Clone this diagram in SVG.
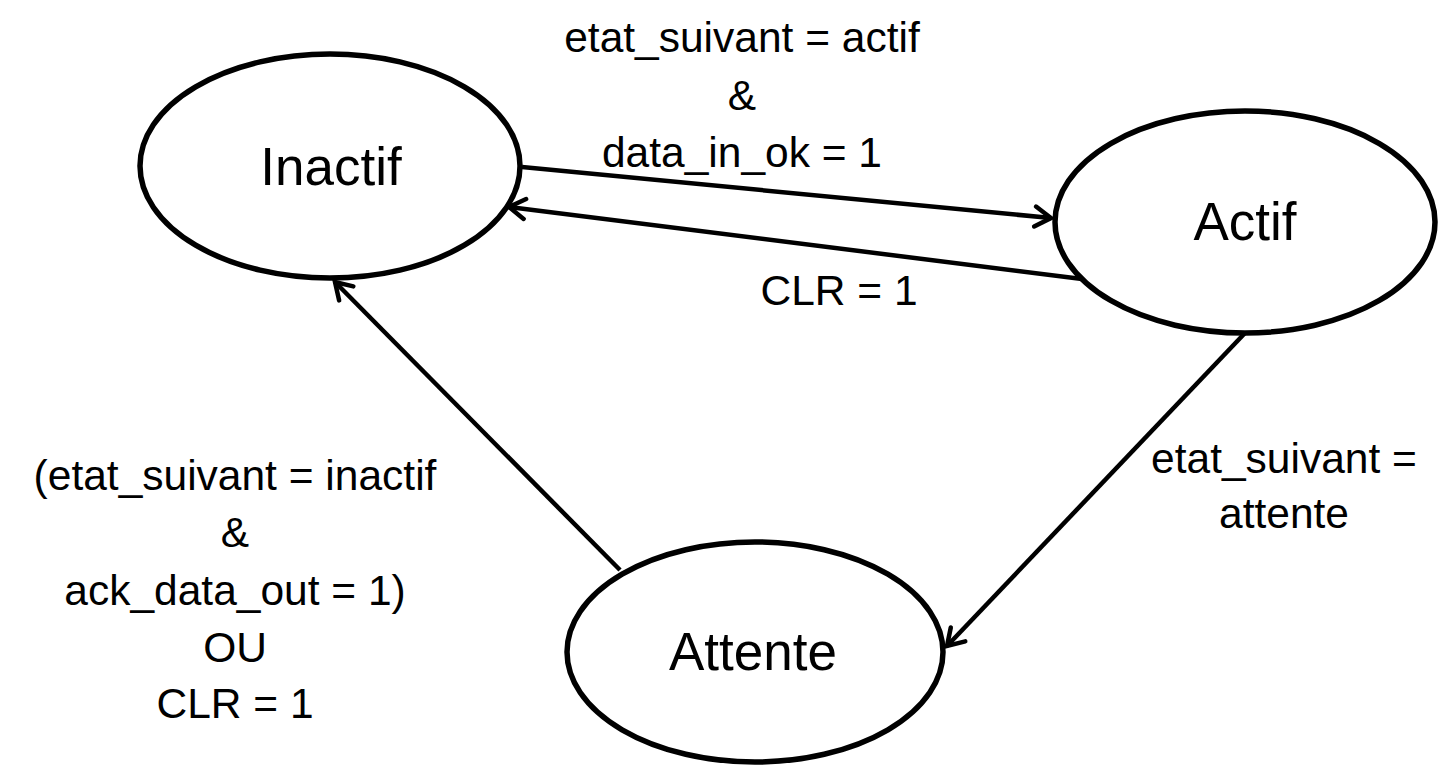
<svg xmlns="http://www.w3.org/2000/svg" width="1455" height="767" viewBox="0 0 1455 767">
<style>
.node{fill:#fff;stroke:#000;stroke-width:5.5}
.nt{font-family:"Liberation Sans",Arial,sans-serif;font-size:53px;fill:#000;text-anchor:middle}
.lt{font-family:"Liberation Sans",Arial,sans-serif;font-size:42.5px;fill:#000;text-anchor:middle}
.edge{fill:none;stroke:#000;stroke-width:4.5;marker-end:url(#arr)}
</style>
<defs>
<marker id="arr" markerUnits="userSpaceOnUse" orient="auto" refX="0" refY="0" markerWidth="40" markerHeight="40" viewBox="-20 -20 40 40" overflow="visible">
<path d="M-16,-10 L0,0 L-16,10" fill="none" stroke="#000" stroke-width="4.5" stroke-linecap="round" stroke-linejoin="miter"/>
</marker>
</defs>
<rect width="1455" height="767" fill="#fff"/>
<g id="connectors">
<line class="edge" x1="522" y1="167" x2="1051" y2="218"/>
<line class="edge" x1="1082" y1="279" x2="509" y2="207"/>
<line class="edge" x1="1245" y1="333" x2="947" y2="646"/>
<line class="edge" x1="620" y1="570" x2="335" y2="282"/>
</g>
<g id="node-inactif">
<ellipse class="node" cx="330" cy="166" rx="190" ry="112"/>
<text class="nt" x="331" y="185">Inactif</text>
</g>
<g id="node-actif">
<ellipse class="node" cx="1245" cy="222" rx="190" ry="111"/>
<text class="nt" x="1245" y="240">Actif</text>
</g>
<g id="node-attente">
<ellipse class="node" cx="755" cy="652" rx="188" ry="110"/>
<text class="nt" x="753" y="670">Attente</text>
</g>
<g id="labels">
<text class="lt" x="742" y="52">etat_suivant = actif</text>
<text class="lt" x="742" y="110">&amp;</text>
<text class="lt" x="742" y="167">data_in_ok = 1</text>
<text class="lt" x="839" y="305">CLR = 1</text>
<text class="lt" x="1284" y="473">etat_suivant =</text>
<text class="lt" x="1284" y="528">attente</text>
<text class="lt" x="235" y="490">(etat_suivant = inactif</text>
<text class="lt" x="235" y="547">&amp;</text>
<text class="lt" x="235" y="605">ack_data_out = 1)</text>
<text class="lt" x="235" y="662">OU</text>
<text class="lt" x="235" y="718">CLR = 1</text>
</g>
</svg>
